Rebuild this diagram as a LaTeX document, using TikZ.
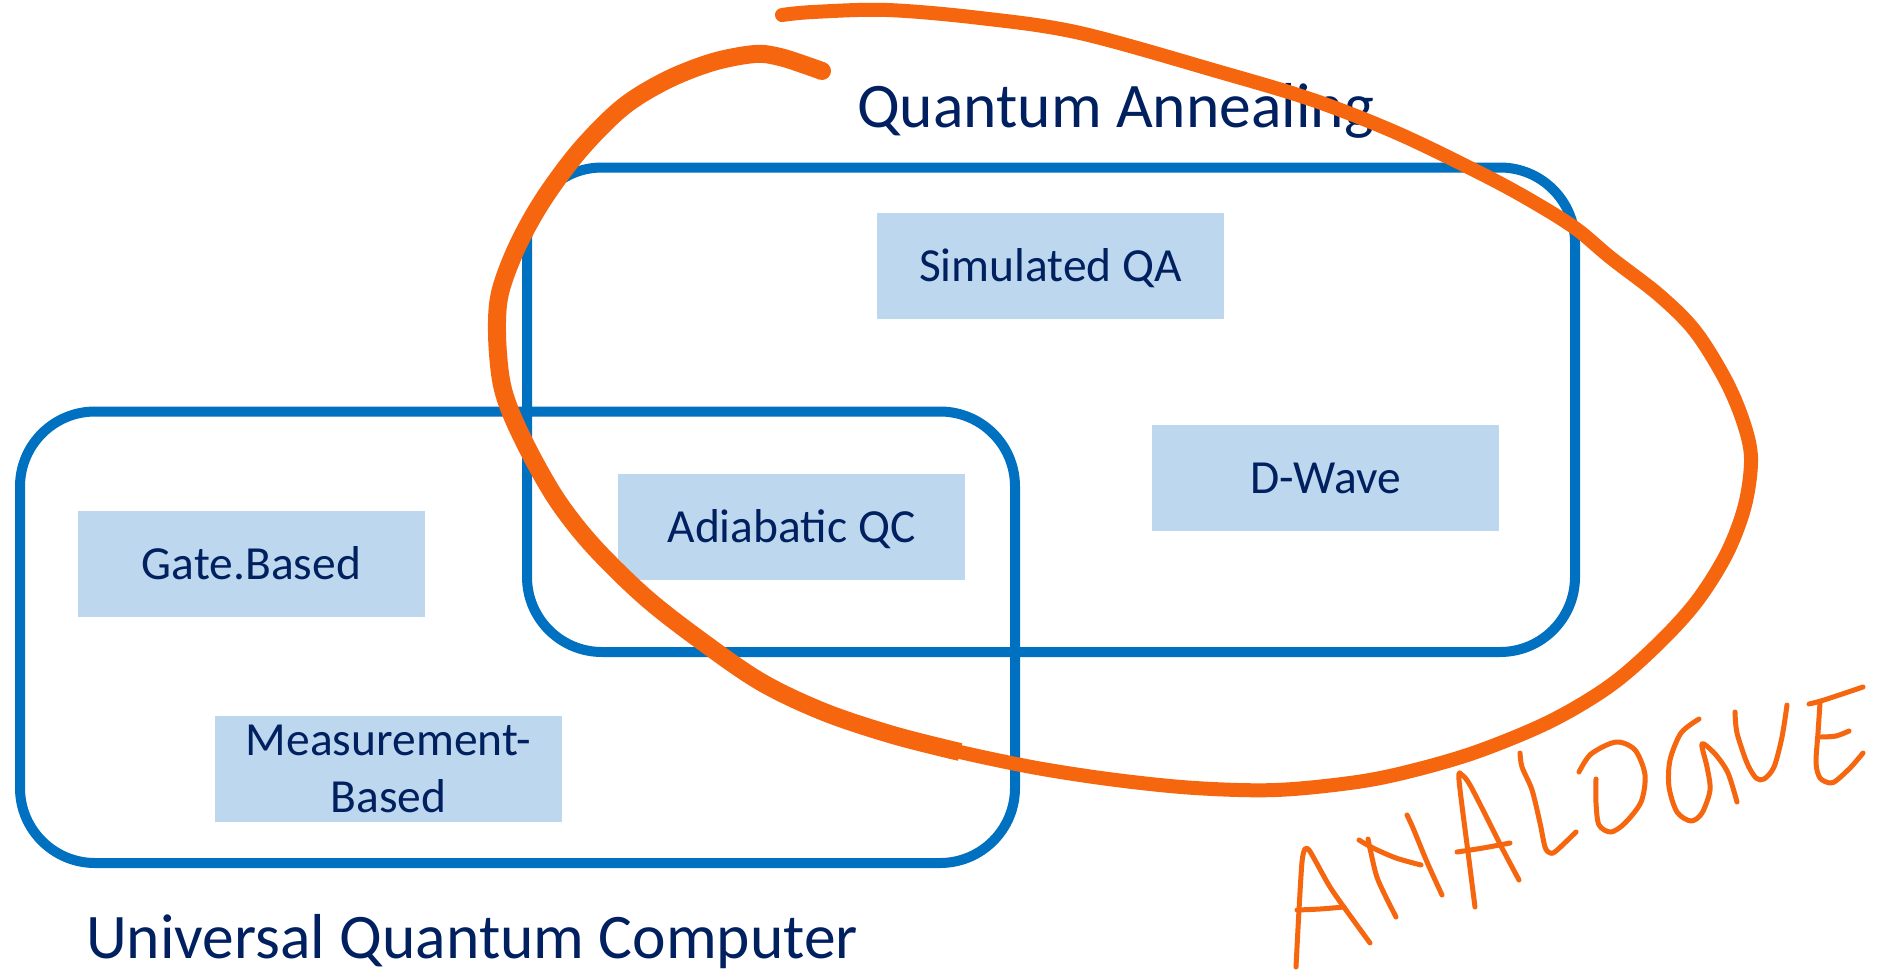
\documentclass[tikz,border=0pt]{standalone}
\usepackage{fontspec}
\setmainfont{Carlito}
\definecolor{navy}{HTML}{002060}
\definecolor{boxblue}{HTML}{0070C0}
\definecolor{fillblue}{HTML}{BDD7EE}
\definecolor{ink}{HTML}{F5660F}
\begin{document}
\begin{tikzpicture}[x=1pt,y=-1pt,
  groupbox/.style={draw=boxblue, line width=10pt, rounded corners=75pt, inner sep=0pt, outer sep=0pt},
  itembox/.style={fill=fillblue, draw=none, minimum width=347pt, minimum height=105.5pt, inner sep=0pt,
     text=navy, font=\fontsize{47.5}{57}\selectfont, text height=30.6pt, text depth=0pt, align=center},
  title/.style={text=navy, font=\fontsize{63.5}{76}\selectfont, inner sep=0pt, anchor=base west},
  inkthick/.style={draw=ink, line width=18pt, line cap=butt, line join=round},
  inkmid/.style={draw=ink, line width=14pt, line cap=round, line join=round},
  inkthin/.style={draw=ink, line width=5pt, line cap=round, line join=round}]
\useasboundingbox (0,0) rectangle (1885,972);
\fill[white] (0,0) rectangle (1885,972);

% group boxes
\node[groupbox, minimum width=995pt, minimum height=451.5pt] (uqc) at (517.5,637.25) {};
\node[groupbox, minimum width=1048pt, minimum height=484.5pt] (qa) at (1051,409.75) {};

% titles
\node[title] (qatitle) at (857,127) {Quantum Annealing};
\node[title] (uqctitle) at (86,958) {Universal Quantum Computer};

% item boxes
\node[itembox] (sim) at (1050.5,265.75) {Simulated QA};
\node[itembox] (dwave) at (1325.5,478) {D-Wave};
\node[itembox] (adia) at (791.5,527) {Adiabatic QC};
\node[itembox] (gate) at (251.5,564) {Gate.Based};
\node[itembox, text height=87.6pt, text depth=0pt] (meas) at (388.5,769) {Measurement-\\Based};

% orange loop
\draw[inkmid] plot[smooth, tension=0.55] coordinates {
 (782,15) (813,12) (887,10) (980,18) (1080,33) (1220,72) (1313,100) (1397,133)
 (1480,173) (1530,200) (1575,228) (1611,258) (1659,295) (1695,331) (1725,379)
 (1743,421) (1751,458) (1745,505) (1727,553) (1697,601) (1659,643) (1611,685)
 (1551,721) (1479,751) (1415,770) (1357,782) (1276,790) (1195,788) (1116,780)
 (1037,768) (960,752) (893,735)};
\draw[inkthick] plot[smooth, tension=0.55] coordinates {
 (960,752) (893,735) (824,712) (761,682) (700,640) (645,597) (594,547)
 (559,503) (532,457) (511,413) (501,380) (497,333) (500,293) (517,247) (543,200)
 (580,150) (623,107) (667,80) (713,62) (755,54) (780,57) (808,66) (822,71)};
\fill[ink] (822,71) circle (9pt);

% ANALOGUE
\draw[inkthin] plot[smooth, tension=0.5] coordinates {(1296,967) (1299,910) (1302,862) (1305,849) (1309,850) (1316,862) (1330,887) (1346,910) (1370,943)};
\draw[inkthin] plot[smooth, tension=0.5] coordinates {(1297,910) (1320,909) (1344,907)};
\draw[inkthin] plot[smooth, tension=0.5] coordinates {(1368,839) (1371,853) (1378,880) (1396,917)};
\draw[inkthin] plot[smooth, tension=0.5] coordinates {(1359,840) (1373,848) (1396,858) (1421,865)};
\draw[inkthin] plot[smooth, tension=0.5] coordinates {(1407,815) (1413,828) (1427,862) (1442,895)};
\draw[inkthin] plot[smooth, tension=0.5] coordinates {(1475,907) (1469,860) (1459,780) (1462,775) (1470,785) (1488,820) (1502,848) (1519,880)};
\draw[inkthin] plot[smooth, tension=0.5] coordinates {(1457,852) (1483,848) (1510,843)};
\draw[inkthin] plot[smooth, tension=0.5] coordinates {(1520,753) (1522,767) (1532,790) (1540,823) (1545,847) (1550,853) (1556,851) (1576,832)};
\draw[inkthin] plot[smooth, tension=0.5] coordinates {(1579,772) (1591,754) (1616,742) (1635,750) (1645,775) (1641,802) (1625,823) (1611,832) (1599,825) (1596,803) (1596,779)};
\draw[inkthin] plot[smooth, tension=0.5] coordinates {(1699,719) (1681,733) (1670,760) (1669,787) (1677,812) (1691,821) (1702,813) (1710,790) (1707,767) (1702,747) (1704,744) (1716,755) (1728,773) (1737,802)};
\draw[inkthin] plot[smooth, tension=0.5] coordinates {(1735,712) (1737,733) (1747,763) (1756,778) (1764,779) (1774,767) (1782,737) (1787,705)};
\draw[inkthin] plot[smooth, tension=0.5] coordinates {(1820,703) (1818,733) (1816,763) (1820,778) (1830,783) (1837,780) (1851,767) (1863,753)};
\draw[inkthin] plot[smooth, tension=0.5] coordinates {(1809,704) (1824,700) (1863,687)};
\draw[inkthin] plot[smooth, tension=0.5] coordinates {(1821,737) (1836,736) (1849,731)};
\end{tikzpicture}
\end{document}
